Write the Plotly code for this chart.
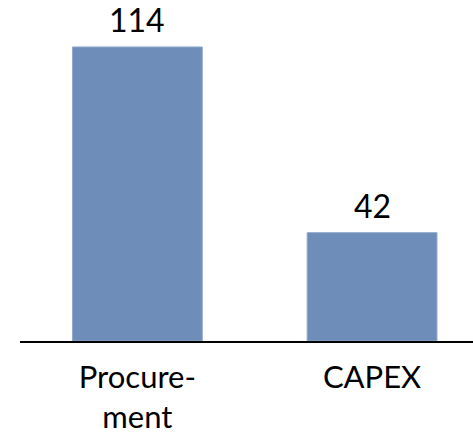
import plotly.graph_objects as go

categories = ["Procurement", "CAPEX"]
tick_labels = ["Procure-<br>ment", "CAPEX"]
values = [114, 42]

FONT = "Lato, Open Sans, sans-serif"

fig = go.Figure(go.Bar(
    x=categories,
    y=values,
    marker=dict(color="#6E8DB9", line=dict(color="#8FA8CB", width=1)),
    width=0.553,
))

for c, v in zip(categories, values):
    fig.add_annotation(
        x=c, y=v, text=str(v), showarrow=False,
        yanchor="bottom", yshift=6,
        font=dict(size=32, color="black", family=FONT),
    )

fig.update_layout(
    width=473, height=438,
    margin=dict(l=20, r=0, t=0, b=97),
    paper_bgcolor="white", plot_bgcolor="white",
    showlegend=False,
    font=dict(family=FONT, color="black"),
)
fig.update_xaxes(
    range=[-0.5, 1.43],
    tickmode="array", tickvals=categories, ticktext=tick_labels,
    tickfont=dict(size=31, color="black", family=FONT),
    ticklabelstandoff=8,
    showline=True, linecolor="black", linewidth=1.5,
    ticks="", showgrid=False, zeroline=False,
)
fig.update_yaxes(
    range=[0, 132.2], visible=False, showgrid=False, zeroline=False,
)

fig.write_html("out.html")
